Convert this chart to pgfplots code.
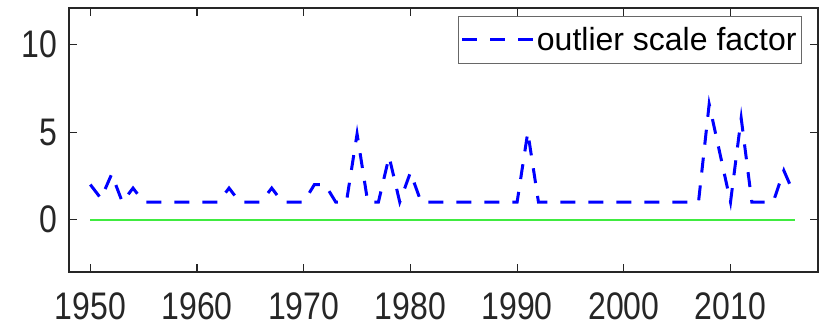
\documentclass[border=0pt]{standalone}
\usepackage{pgfplots}
\pgfplotsset{compat=1.18}
\usepackage{fontspec}
\setmainfont{Liberation Sans}
\definecolor{axgray}{RGB}{38,38,38}
\begin{document}
\begin{tikzpicture}
\begin{axis}[
  scale only axis,
  width=749bp, height=264bp,
  xmin=1948, xmax=2018.2,
  ymin=-3, ymax=12.1,
  xtick={1950,1960,...,2010},
  ytick={0,5,10},
  tick align=inside,
  major tick length=8bp,
  axis line style={axgray, line width=1.5bp},
  every tick/.style={axgray, line width=1.2bp},
  /pgf/number format/assume math mode=true,
  /pgf/number format/1000 sep={},
  xticklabel={\scalebox{1}[1.2]{\pgfmathprintnumber{\tick}}},
  yticklabel={\scalebox{1}[1.2]{\pgfmathprintnumber{\tick}}},
  ticklabel style={font=\fontsize{32bp}{38bp}\selectfont, text=axgray},
  xticklabel style={yshift=-17bp},
  yticklabel style={xshift=-8bp},
  clip=false,
  legend style={
    at={(1,1)}, anchor=north east, xshift=-16bp, yshift=-8bp,
    draw=axgray!70, line width=0.8bp,
    font=\fontsize{32bp}{38bp}\selectfont,
    inner xsep=3bp, inner ysep=9bp,
    /tikz/every even column/.append style={column sep=2bp},
  },
  legend cell align=left,
  legend image code/.code={\draw[#1] (0bp,0bp) -- (71bp,0bp);},
]
\addplot[draw={rgb,255:red,64;green,235;blue,64}, line width=2bp, forget plot] coordinates {(1950,0)(2016,0)};
\addplot[draw=blue, line width=3bp, dash pattern=on 15bp off 13bp] coordinates {
(1950,2.0)(1951,1.2)(1952,2.6)(1953,1.0)(1954,1.8)(1955,1)(1956,1)(1957,1)(1958,1)(1959,1)
(1960,1)(1961,1)(1962,1)(1963,1.8)(1964,1)(1965,1)(1966,1)(1967,1.8)(1968,1)(1969,1)
(1970,1)(1971,2.0)(1972,2.0)(1973,1)(1974,1)(1975,4.9)(1976,1)(1977,1)(1978,3.6)(1979,1)
(1980,2.7)(1981,1)(1982,1)(1983,1)(1984,1)(1985,1)(1986,1)(1987,1)(1988,1)(1989,1)
(1990,1)(1991,5.0)(1992,1)(1993,1)(1994,1)(1995,1)(1996,1)(1997,1)(1998,1)(1999,1)
(2000,1)(2001,1)(2002,1)(2003,1)(2004,1)(2005,1)(2006,1)(2007,1)(2008,6.6)(2009,3.8)
(2010,1)(2011,5.8)(2012,1)(2013,1)(2014,1)(2015,2.8)(2016,1.4)
};
\addlegendentry{outlier scale factor}
\path ([xshift=-69bp,yshift=-61bp]rel axis cs:0,0) rectangle ([xshift=7bp,yshift=8bp]rel axis cs:1,1);
\end{axis}
\end{tikzpicture}
\end{document}
